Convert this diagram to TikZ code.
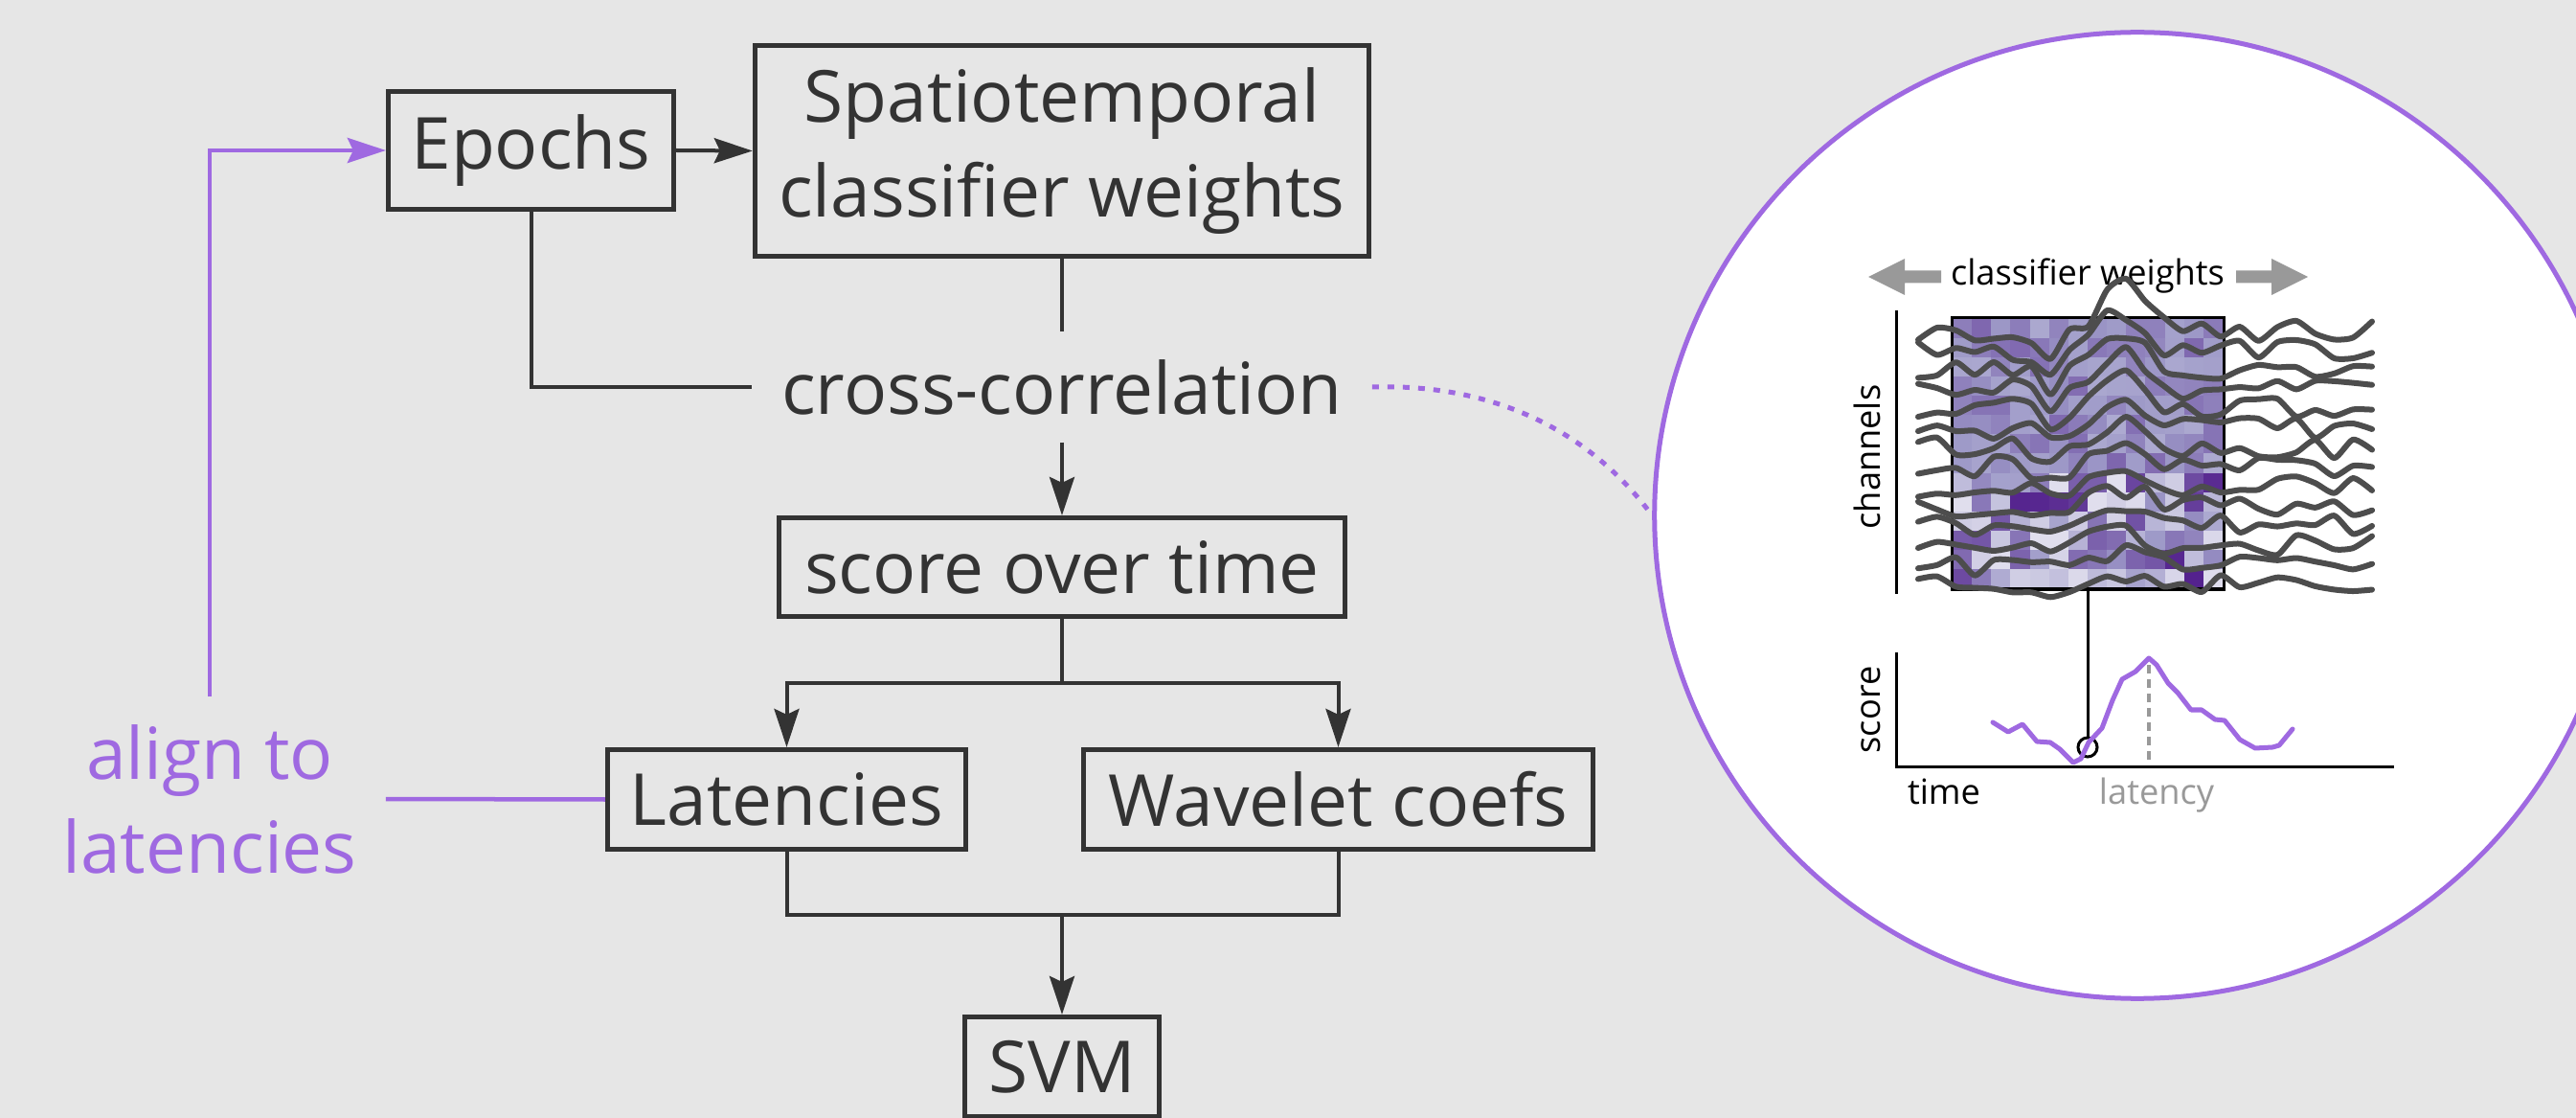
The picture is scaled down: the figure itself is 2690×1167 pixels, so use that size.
\documentclass[tikz,border=0pt]{standalone}
\usepackage{fontspec}
\setmainfont{Open Sans}
\usetikzlibrary{arrows.meta}

\definecolor{bg}{HTML}{E6E6E6}
\definecolor{ink}{HTML}{333333}
\definecolor{accent}{HTML}{9F69E1}
\definecolor{tracec}{HTML}{4D4D4D}
\definecolor{softgray}{HTML}{999999}
\definecolor{pwhite}{HTML}{FCFBFD}
\definecolor{pmid}{HTML}{9E9AC8}
\definecolor{pdark}{HTML}{3F007D}

\tikzset{
  big/.style={font=\fontsize{21.3pt}{27.9pt}\selectfont, text=ink},
  small/.style={font=\fontsize{10.3pt}{12.4pt}\selectfont, text=black},
  box/.style={big, draw=ink, line width=0.05cm, inner sep=0pt, align=center},
  link/.style={draw=ink, line width=0.04cm},
  tipstyle/.style={-{Stealth[length=0.40cm, width=0.26cm, inset=0.06cm]}},
  flow/.style={link, tipstyle},
  accentline/.style={draw=accent, line width=0.045cm},
  dotlink/.style={draw=accent, line width=0.05cm, dash pattern=on 0.07cm off 0.09cm},
  axis/.style={draw=black, line width=0.03cm},
  trace/.style={draw=tracec, line width=0.06cm, line join=round, line cap=round},
  scorecurve/.style={draw=accent, line width=0.05cm, line join=round, line cap=round},
}

\begin{document}
\begin{tikzpicture}[x=0.01cm, y=-0.01cm]
  % canvas
  \useasboundingbox (0,0) rectangle (2690,1167);
  \clip (0,0) rectangle (2690,1167);
  \fill[bg] (0,0) rectangle (2690,1167);

  % ---------------- pipeline ----------------
  \node[box, minimum width=2.98cm, minimum height=1.23cm] (epochs) at (554.5,157) {Epochs};
  \node[box, minimum width=6.41cm, minimum height=2.20cm] (spatio) at (1109,157.5) {Spatiotemporal\\classifier weights};
  \node[big, inner sep=0pt, minimum width=6.46cm, minimum height=1.14cm] (cross) at (1109,404) {cross-correlation};
  \node[box, minimum width=5.91cm, minimum height=1.03cm] (score) at (1109,592) {score over time};
  \node[box, minimum width=3.74cm, minimum height=1.04cm] (lat) at (821.5,834.5) {Latencies};
  \node[box, minimum width=5.32cm, minimum height=1.04cm] (wav) at (1397.5,834.5) {Wavelet coefs};
  \node[box, minimum width=2.03cm, minimum height=1.04cm] (svm) at (1109,1113.5) {SVM};
  \node[big, text=accent, align=center, inner sep=0pt, minimum width=3.66cm, minimum height=2.12cm] (align) at (219,834) {align to\\latencies};

  \draw[flow] (epochs.east) -- (spatio.west);
  \draw[link] (spatio.south) -- (cross.north);
  \draw[link] (epochs.south) |- (cross.west);
  \draw[flow] (cross.south) -- (score.north);

  \coordinate (split) at (1109,713);
  \draw[link] (score.south) -- (split);
  \draw[flow] (split) -| (lat.north);
  \draw[flow] (split) -| (wav.north);

  \coordinate (merge) at (1109,955);
  \draw[link] (lat.south) |- (merge) -| (wav.south);
  \draw[flow] (merge) -- (svm.north);

  % realignment loop
  \draw[accentline] (lat.west) -- (align.east);
  \draw[accentline, tipstyle] (align.north) |- (epochs.west);

  % ---------------- magnified inset ----------------
  \node[circle, draw=accent, line width=0.05cm, fill=white, inner sep=0pt, minimum size=10.08cm] (zoomc) at (2232,538) {};
  \draw[dotlink] (cross.east) .. controls (1560,400) and (1660,450) .. (zoomc.west);

  % classifier-weight label with sliding arrows
  \fill[softgray] (2027,282.5) -- (1989,282.5) -- (1989,270) -- (1951,289) -- (1989,308) -- (1989,295.5) -- (2027,295.5) -- cycle;
  \fill[softgray] (2335,282.5) -- (2372,282.5) -- (2372,270) -- (2410,289) -- (2372,308) -- (2372,295.5) -- (2335,295.5) -- cycle;
  \node[small, anchor=base] (cwlabel) at (2180,298) {classifier weights};

  % weight map (channels x time)
  \pgfmathsetseed{11}
  \foreach \r in {0,...,13}{
    \foreach \c in {0,...,13}{
      \ifnum\r<8
        \pgfmathsetmacro\v{0.42+0.26*rnd}
      \else
        \pgfmathsetmacro\v{0.15+0.75*rnd^1.3}
      \fi
      \ifdim\v pt<0.5pt
        \pgfmathtruncatemacro\p{200*\v}
        \colorlet{cellc}{pmid!\p!pwhite}
      \else
        \pgfmathtruncatemacro\p{200*(\v-0.5)}
        \colorlet{cellc}{pdark!\p!pmid}
      \fi
      \fill[cellc] ({2039+20.14*\c},{333+20.07*\r}) rectangle ++(20.6,20.5);
    }
  }
  \draw[black, line width=0.03cm] (2038,332) rectangle (2322,615);

  % channel traces
  \foreach \i in {0,...,13}{
    \pgfmathsetmacro\base{345+20.4*\i}
    \pgfmathsetmacro\amp{max(1-0.06*\i,0.2)}
    \draw[trace] plot[smooth, tension=0.4, domain=2003:2477, samples=25]
      (\x, {\base + \amp*(24*exp(-min(((\x-2141)/17)^2,9)) - 44*exp(-min(((\x-2216)/30)^2,9))) + 11*rand});
  }

  % channel axis
  \draw[axis] (1980,324) -- (1980,620);
  \node[small, rotate=90, anchor=base] (chlabel) at (1963,477) {channels};

  % window position marker
  \draw[axis] (2180,616) -- (2180,770);
  \draw[axis] (2180,780) circle[radius=0.1cm];

  % score over time
  \draw[axis] (1980,681) -- (1980,800) -- (2500,800);
  \node[small, rotate=90, anchor=base] (sclabel) at (1963,741) {score};
  \draw[softgray, line width=0.045cm, dash pattern=on 0.09cm off 0.06cm] (2244,694) -- (2244,798);
  \draw[scorecurve] (2081,754) -- (2097,764) -- (2112,756) -- (2127,774) -- (2141,775) -- (2151,782)
    -- (2165,796) -- (2173,792) -- (2181,775) -- (2195,760) -- (2206,731) -- (2216,709) -- (2230,701)
    -- (2244,687) -- (2252,694) -- (2264,713) -- (2274,723) -- (2288,741) -- (2299,741) -- (2313,751)
    -- (2323,752) -- (2339,772) -- (2355,781) -- (2373,780) -- (2380,778) -- (2394,761);
  \node[small, anchor=base] (timelabel) at (2030,839) {time};
  \node[small, anchor=base, text=softgray] (latlabel) at (2252,839) {latency};
\end{tikzpicture}
\end{document}
